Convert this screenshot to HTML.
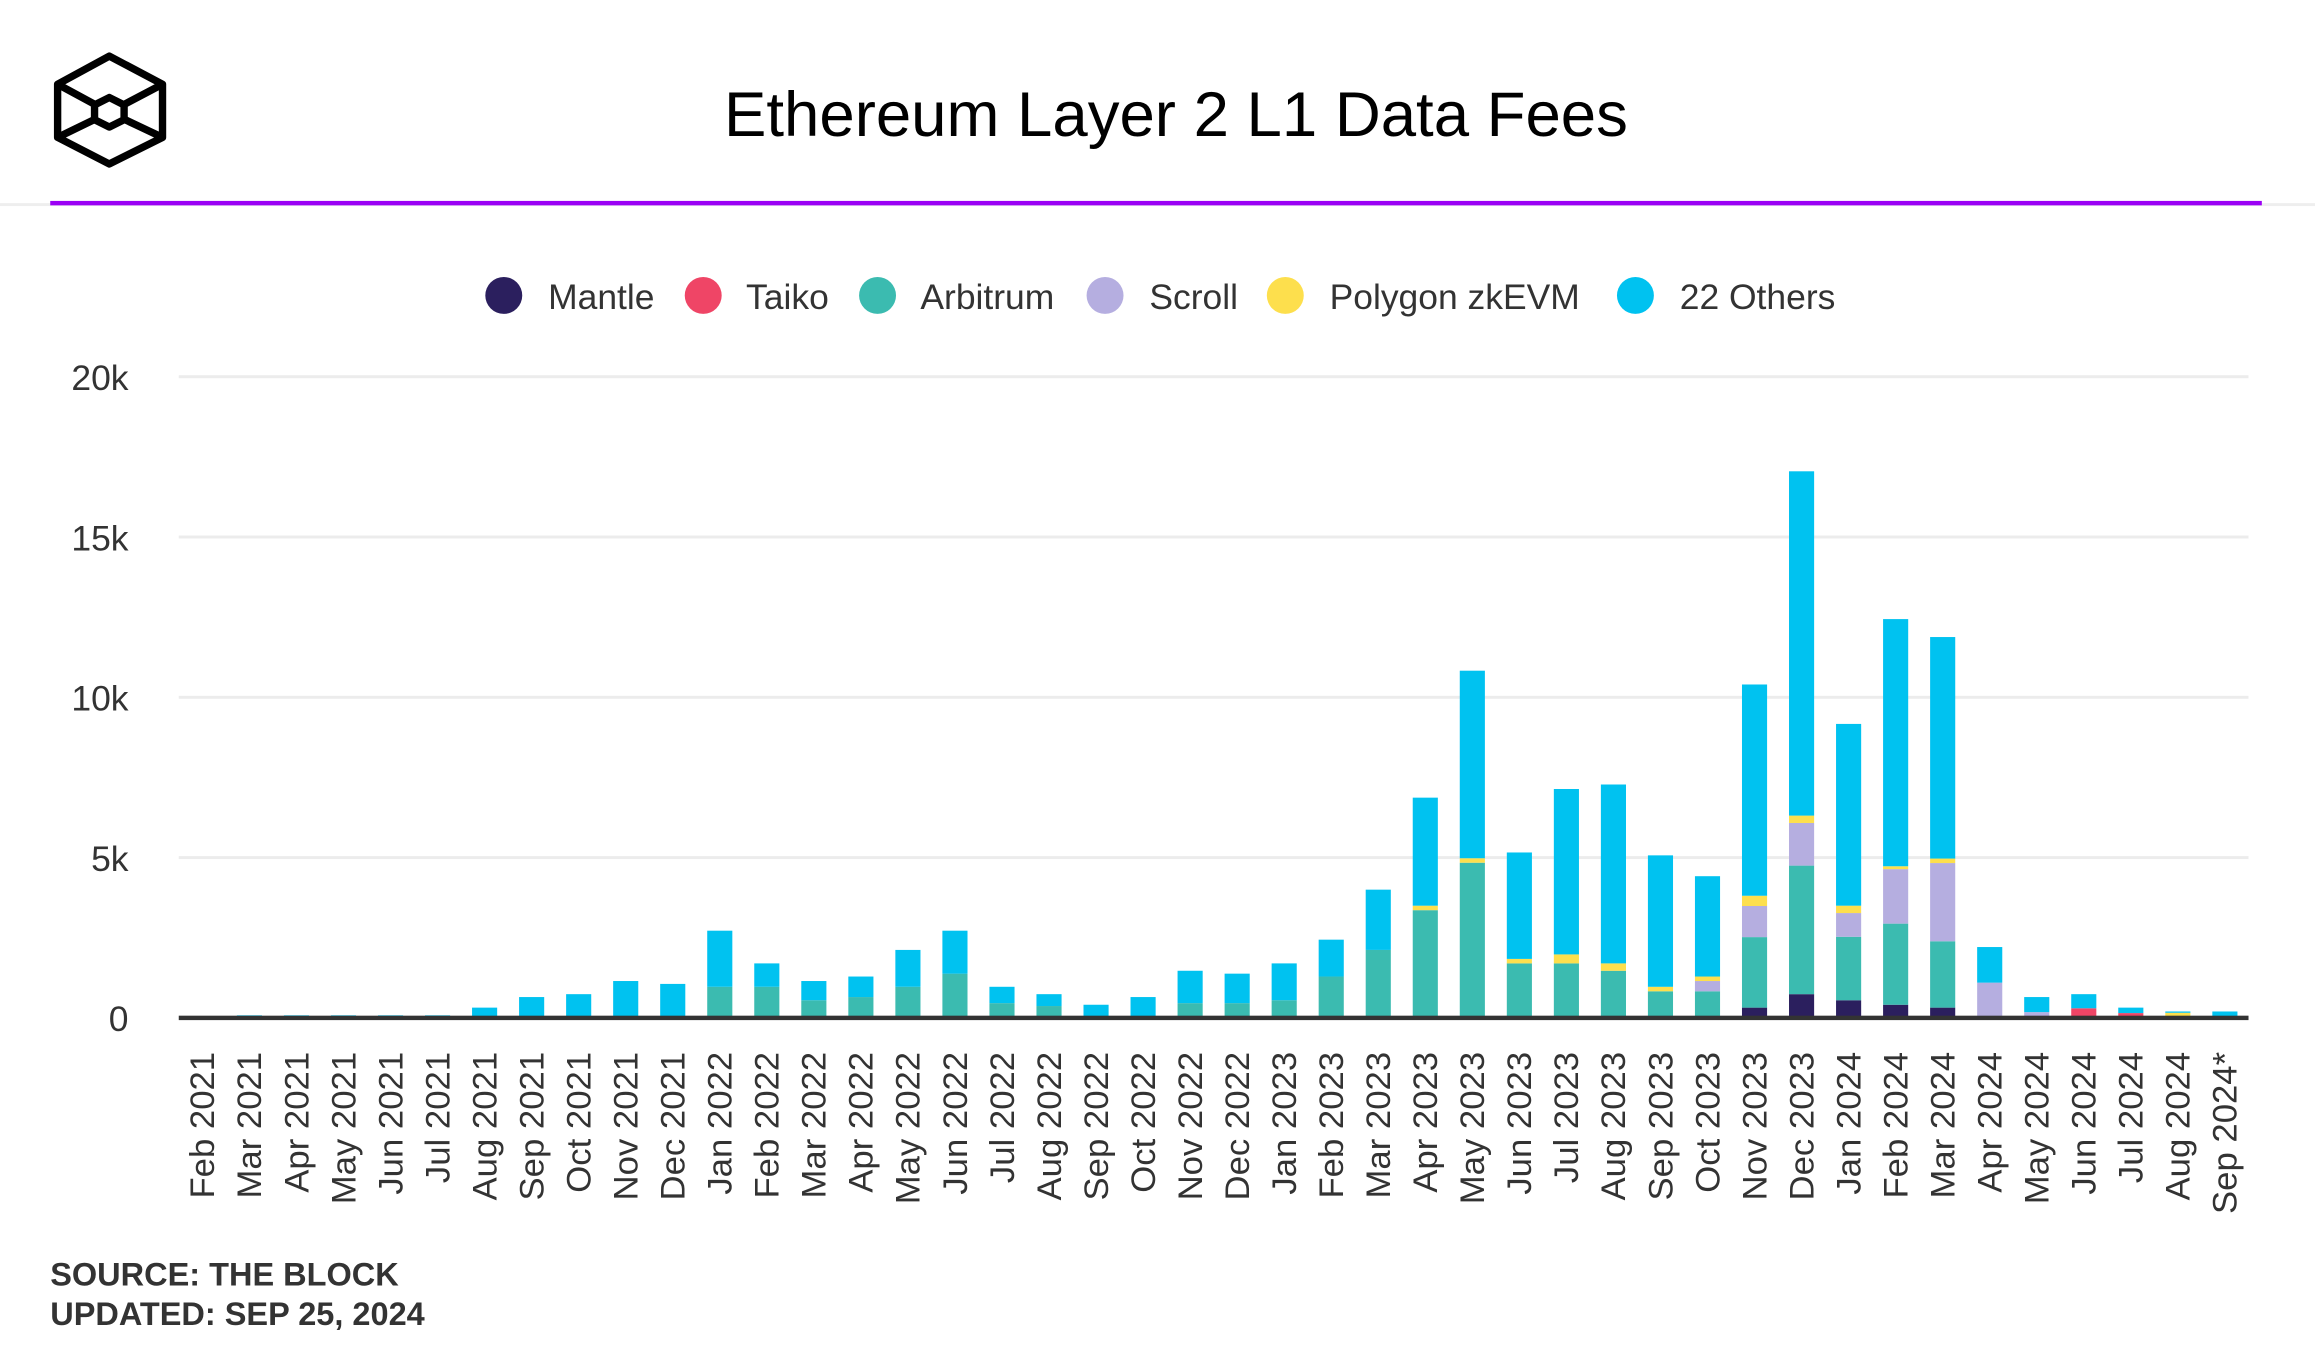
<!DOCTYPE html>
<html><head><meta charset="utf-8"><style>
html,body{margin:0;padding:0;background:#fff;}
svg{display:block;}
text{font-family:"Liberation Sans",sans-serif;}
</style></head><body>
<svg id="chart" width="2315" height="1350" viewBox="0 0 1567 913.8" xmlns="http://www.w3.org/2000/svg">
<g fill="none" stroke="#000" stroke-width="5" stroke-linejoin="round">
<polygon points="74,38 110,57 110,93 74,111 39,93 39,57"/>
<polyline points="39,57 74,76 110,57"/>
<polyline points="39,93 74,76 110,93"/>
<polygon points="74,66 84,71 84,81 74,86 64,81 64,71" fill="#fff"/>
</g>
<text x="796" y="92" text-anchor="middle" font-size="43" fill="#000">Ethereum Layer 2 L1 Data Fees</text>
<rect x="0" y="137.5" width="1567" height="2" fill="#eee"/>
<rect x="34" y="136" width="1497" height="3" fill="#9b00f5"/>
<g id="legend"></g>
<g id="grid"></g>
<g id="bars"></g>
<rect x="121" y="687.5" width="1401" height="3" fill="#333"/>
<g id="xlabels"></g>
<text x="34" y="870" font-size="22" font-weight="bold" fill="#333">SOURCE: THE BLOCK</text>
<text x="34" y="897" font-size="22" font-weight="bold" fill="#333">UPDATED: SEP 25, 2024</text>
</svg>
<script>
const months = ["Feb 2021","Mar 2021","Apr 2021","May 2021","Jun 2021","Jul 2021","Aug 2021","Sep 2021","Oct 2021","Nov 2021","Dec 2021","Jan 2022","Feb 2022","Mar 2022","Apr 2022","May 2022","Jun 2022","Jul 2022","Aug 2022","Sep 2022","Oct 2022","Nov 2022","Dec 2022","Jan 2023","Feb 2023","Mar 2023","Apr 2023","May 2023","Jun 2023","Jul 2023","Aug 2023","Sep 2023","Oct 2023","Nov 2023","Dec 2023","Jan 2024","Feb 2024","Mar 2024","Apr 2024","May 2024","Jun 2024","Jul 2024","Aug 2024","Sep 2024*"];
const mantle = [0,0,0,0,0,0,0,0,0,0,0,0,0,0,0,0,0,0,0,0,0,0,0,0,0,0,0,0,0,0,50,50,50,320,740,550,410,320,0,0,0,0,0,0];
const taiko = [0,0,0,0,0,0,0,0,0,0,0,0,0,0,0,0,0,0,0,0,0,0,0,0,0,0,0,0,0,0,0,0,0,0,0,0,0,0,0,0,300,150,40,0];
const arbitrum = [0,0,0,0,0,0,0,0,0,0,0,970,970,550,650,970,1380,460,370,0,20,460,460,550,1290,2120,3360,4840,1700,1700,1420,780,780,2200,4010,1980,2530,2070,50,30,0,0,0,30];
const scroll = [0,0,0,0,0,0,0,0,0,0,0,0,0,0,0,0,0,0,0,0,0,0,0,0,0,0,0,0,0,0,0,0,320,970,1330,740,1700,2440,1050,150,0,0,0,0];
const polygon = [0,0,0,0,0,0,0,0,0,0,0,0,0,0,0,0,0,0,0,0,0,0,0,0,0,0,140,140,140,280,230,140,140,320,230,230,90,140,0,0,0,0,120,0];
const others = [0,80,80,80,80,80,320,650,740,1150,1060,1750,730,600,640,1150,1340,510,370,410,630,1010,920,1150,1150,1880,3370,5850,3320,5160,5580,4100,3130,6590,10740,5670,7710,6910,1110,470,440,170,40,170];
const yTicks = [0,5000,10000,15000,20000];
const yTickLabels = ["0","5k","10k","15k","20k"];
const seriesNames = ["Mantle","Taiko","Arbitrum","Scroll","Polygon zkEVM","22 Others"];
const seriesColors = ["#2b1f5e","#ef4566","#3bbbb0","#b5aee0","#fddf4d","#00c2f0"];
const seriesData = [mantle,taiko,arbitrum,scroll,polygon,others];

const NS="http://www.w3.org/2000/svg";
const Y0=689, YTOP=255, YMAX=20000;
const X0=137, X1=1506, BW=17;
function yScale(v){return Y0-(v/YMAX)*(Y0-YTOP);}
function xScale(i){return X0+i*(X1-X0)/(months.length-1);}
function mk(tag,attrs,parent){const e=document.createElementNS(NS,tag);for(const k in attrs)e.setAttribute(k,attrs[k]);parent.appendChild(e);return e;}

const grid=document.getElementById('grid');
yTicks.forEach((t,i)=>{
  if(t>0){
    const l=mk('rect',{x:121,y:yScale(t)-1,width:1401,height:2,fill:'#ececec'},grid);
    
    
  }
  const tx=mk('text',{x:87,y:yScale(t)+9,'text-anchor':'end','font-size':24,fill:'#333'},grid);
  tx.textContent=yTickLabels[i];
  
  
});

const bars=document.getElementById('bars');
months.forEach((m,i)=>{
  let acc=0;
  seriesData.forEach((arr,s)=>{
    const v=arr[i];
    if(v<=0)return;
    const yTop=yScale(acc+v), yBot=yScale(acc);
    const r=mk('rect',{x:xScale(i)-BW/2,y:yTop,width:BW,height:Math.max(yBot-yTop,0.5),fill:seriesColors[s]},bars);
    
    
    acc+=v;
  });
});

const xl=document.getElementById('xlabels');
months.forEach((m,i)=>{
  const x=xScale(i)+8, y=712;
  const t=mk('text',{x:x,y:y,'text-anchor':'end','font-size':23.5,fill:'#333',transform:`rotate(-90 ${x} ${y})`},xl);
  t.textContent=m;
  
  
});

const lg=document.getElementById('legend');
const lgPos=[[341,371],[476,505],[594,623],[748,778],[870,900],[1107,1137]];
seriesNames.forEach((n,s)=>{
  const g=mk('g',{},lg);
  
  
  mk('circle',{cx:lgPos[s][0],cy:200,r:12.5,fill:seriesColors[s]},g);
  const t=mk('text',{x:lgPos[s][1],y:209,'font-size':24,fill:'#333'},g);
  t.textContent=n;
});
</script>
</body></html>
